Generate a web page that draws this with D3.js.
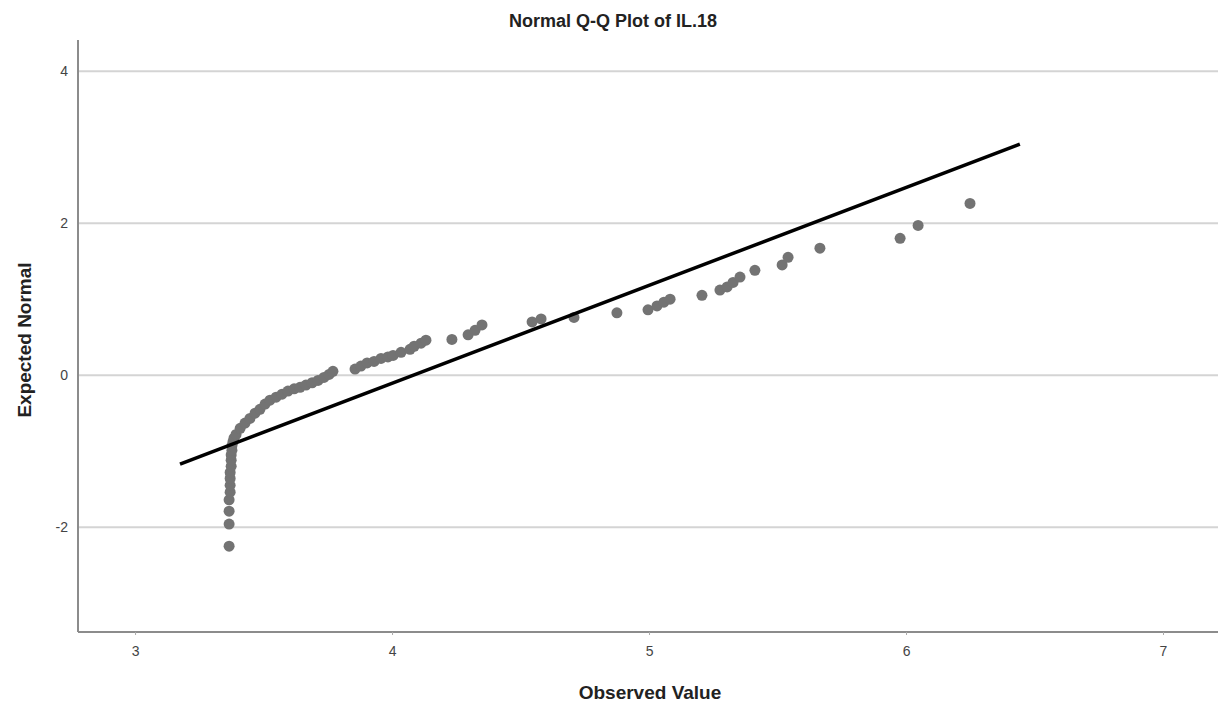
<!DOCTYPE html>
<html>
<head>
<meta charset="utf-8">
<script src="https://cdn.jsdelivr.net/npm/d3@7"></script>
<style>
  body { margin: 0; background: #fff; }
  text { font-family: "Liberation Sans", Arial, sans-serif; }
</style>
</head>
<body>
<script>
var observed = [
  3.366, 3.366, 3.366, 3.366, 3.370, 3.370, 3.370, 3.370, 3.374, 3.374,
  3.374, 3.377, 3.377, 3.381, 3.385, 3.393,
  3.409, 3.428, 3.447, 3.467, 3.486, 3.506, 3.525, 3.549, 3.572, 3.595,
  3.619, 3.642, 3.665, 3.689, 3.712, 3.735, 3.755, 3.770,
  3.856, 3.879, 3.903, 3.930, 3.957, 3.984, 4.004, 4.035, 4.070, 4.086,
  4.113, 4.132, 4.233, 4.296, 4.323, 4.350,
  4.545, 4.580, 4.708, 4.875, 4.996, 5.031, 5.058, 5.082,
  5.206, 5.276, 5.304, 5.327, 5.354, 5.412, 5.518, 5.541, 5.665,
  5.977, 6.047, 6.249
];
var expected = [
  -2.25, -1.96, -1.79, -1.64, -1.54, -1.45, -1.36, -1.28, -1.20, -1.12,
  -1.05, -0.99, -0.93, -0.88, -0.83, -0.78,
  -0.70, -0.63, -0.57, -0.50, -0.45, -0.38, -0.33, -0.29, -0.25, -0.21,
  -0.18, -0.16, -0.13, -0.10, -0.07, -0.03, 0.01, 0.05,
  0.08, 0.12, 0.16, 0.18, 0.22, 0.24, 0.26, 0.30, 0.34, 0.38,
  0.42, 0.46, 0.47, 0.53, 0.59, 0.66,
  0.70, 0.74, 0.76, 0.82, 0.86, 0.91, 0.96, 1.00,
  1.05, 1.12, 1.16, 1.22, 1.29, 1.38, 1.45, 1.55, 1.67,
  1.80, 1.97, 2.26
];
// reference line end points
var lineX = [3.175, 6.443];
var lineY = [-1.17, 3.04];

var xTicks = [3, 4, 5, 6, 7];
var yTicks = [-2, 0, 2, 4];

var scr = { w: 1227, h: 713 };
var plot = { left: 78, right: 1218, top: 40, bottom: 632 };

var svg = d3.select('body')
            .append('svg')
            .attr('width', scr.w)
            .attr('height', scr.h);

var xScale = d3.scaleLinear()
               .domain([2.778, 7.214])
               .range([plot.left, plot.right]);
var yScale = d3.scaleLinear()
               .domain([-3.38, 4.41])
               .range([plot.bottom, plot.top]);

// gridlines
svg.append('g')
   .selectAll('line')
   .data(yTicks)
   .enter()
   .append('line')
   .attr('x1', plot.left)
   .attr('x2', plot.right)
   .attr('y1', function(d){ return yScale(d); })
   .attr('y2', function(d){ return yScale(d); })
   .attr('stroke', '#d4d4d4')
   .attr('stroke-width', 2);

var plain = function(d){ return String(d); }; // hyphen minus like the original
var xAxis = d3.axisBottom(xScale).tickValues(xTicks).tickSize(3).tickFormat(plain);
var yAxis = d3.axisLeft(yScale).tickValues(yTicks).tickSize(0).tickPadding(10).tickFormat(plain);

var gx = svg.append('g')
   .attr('transform', 'translate(0,' + plot.bottom + ')')
   .call(xAxis);
gx.select('.domain').attr('d', 'M' + plot.left + ',0H' + plot.right).attr('stroke', '#8c8c8c').attr('stroke-width', 2);
gx.selectAll('.tick line').attr('stroke', '#aaa');
gx.selectAll('.tick text')
  .attr('dy', '1.3em')
  .style('font-size', '14px')
  .attr('fill', '#444');

var gy = svg.append('g')
   .attr('transform', 'translate(' + plot.left + ',0)')
   .call(yAxis);
gy.select('.domain').attr('d', 'M0,' + plot.top + 'V' + plot.bottom).attr('stroke', '#8c8c8c').attr('stroke-width', 2);
gy.selectAll('.tick text')
  .style('font-size', '14px')
  .attr('fill', '#444');

// points
var pts = observed.map(function(d, i){ return { x: d, y: expected[i] }; });
svg.append('g')
   .selectAll('circle')
   .data(pts)
   .enter()
   .append('circle')
   .attr('cx', function(d){ return xScale(d.x); })
   .attr('cy', function(d){ return yScale(d.y); })
   .attr('r', 5.5)
   .attr('fill', '#737373');

// reference line
svg.append('line')
   .attr('x1', xScale(lineX[0]))
   .attr('y1', yScale(lineY[0]))
   .attr('x2', xScale(lineX[1]))
   .attr('y2', yScale(lineY[1]))
   .attr('stroke', '#000')
   .attr('stroke-width', 3.5);

// titles
svg.append('text')
   .attr('x', 613)
   .attr('y', 27)
   .attr('text-anchor', 'middle')
   .style('font-size', '18px')
   .style('font-weight', 'bold')
   .attr('fill', '#222')
   .text('Normal Q-Q Plot of IL.18');

svg.append('text')
   .attr('x', 650)
   .attr('y', 699)
   .attr('text-anchor', 'middle')
   .style('font-size', '19px')
   .style('font-weight', 'bold')
   .attr('fill', '#222')
   .text('Observed Value');

svg.append('text')
   .attr('transform', 'translate(31,340) rotate(-90)')
   .attr('text-anchor', 'middle')
   .style('font-size', '19px')
   .style('font-weight', 'bold')
   .attr('fill', '#222')
   .text('Expected Normal');
</script>
</body>
</html>
